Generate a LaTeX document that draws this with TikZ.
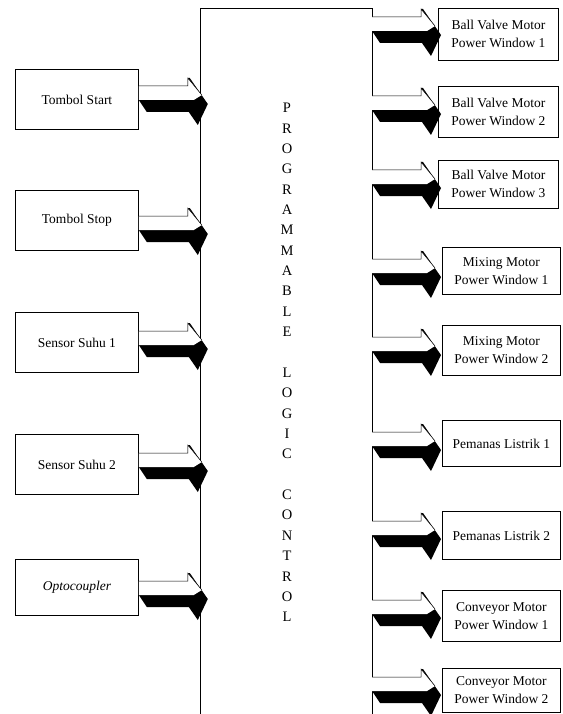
\documentclass[tikz,border=0pt]{standalone}
\usepackage{fontspec}
\setmainfont{Liberation Serif}
\usetikzlibrary{calc}
\tikzset{
  blk/.style={draw=black, line width=0.8pt, inner sep=0pt, align=center, anchor=north west,
    font=\fontsize{13.5}{18}\selectfont},
  inbox/.style={blk, minimum width=123pt, minimum height=60pt},
  outbox/.style={blk, minimum width=120pt, minimum height=50pt},
  ltr/.style={inner sep=0pt, font=\fontsize{14.5}{16}\selectfont},
  arr3d/.pic={
    \fill[black] (0,14)--(49,14)--(49,-8)--(51,-8)--(69,18)--(59,39)--(50,26)--(8,26)--cycle;
    \fill[white] (0,0)--(49,0)--(49,-8)--(63,9)--(55,14)--(0,14)--cycle;
    \draw[line width=0.5pt] (0,0)--(49,0)--(49,-8)--(63,9);
  }
}
\begin{document}
\begin{tikzpicture}[x=1pt,y=-1pt]
\useasboundingbox (0,0) rectangle (562,714);
% PLC
\coordinate (plcbl) at (200,714);
\coordinate (plcbr) at (372,714);
\draw[line width=0.8pt] (plcbl) -- (200,8) coordinate (plctl) -- (372,8) coordinate (plctr) -- (plcbr);
% PLC letters
\foreach \t [count=\i from 0] in {P,R,O,G,R,A,M,M,A,B,L,E,{},L,O,G,I,C,{},C,O,N,T,R,O,L}{
  \node[ltr] (p\i) at (287,{108+\i*20.36}) {\t};
}
% inputs
\node[inbox] (in1) at (15,69) {Tombol Start};
\node[inbox] (in2) at (15,190) {Tombol Stop};
\node[inbox] (in3) at (15,312) {Sensor Suhu 1};
\node[inbox] (in4) at (15,434) {Sensor Suhu 2};
\node[inbox, minimum height=56pt] (in5) at (15,559) {\itshape Optocoupler};
\foreach \n/\d in {in1/17,in2/26,in3/19,in4/19,in5/22}{
  \pic at ($(\n.north east)+(0,\d)$) {arr3d};
}
% outputs
\node[outbox, minimum width=120pt, minimum height=52pt] (o1) at (438,8) {Ball Valve Motor\\Power Window 1};
\node[outbox, minimum width=120pt, minimum height=51pt] (o2) at (438,86) {Ball Valve Motor\\Power Window 2};
\node[outbox, minimum width=120pt, minimum height=48pt] (o3) at (438,160) {Ball Valve Motor\\Power Window 3};
\node[outbox, minimum width=118pt, minimum height=47pt] (o4) at (442,247) {Mixing Motor\\Power Window 1};
\node[outbox, minimum width=118pt, minimum height=50pt] (o5) at (442,325) {Mixing Motor\\Power Window 2};
\node[outbox, minimum width=118pt, minimum height=46pt] (o6) at (442,420) {Pemanas Listrik 1};
\node[outbox, minimum width=118pt, minimum height=48pt] (o7) at (442,511) {Pemanas Listrik 2};
\node[outbox, minimum width=118pt, minimum height=51pt] (o8) at (442,590) {Conveyor Motor\\Power Window 1};
\node[outbox, minimum width=118pt, minimum height=44pt] (o9) at (442,668) {Conveyor Motor\\Power Window 2};
\foreach \n/\d in {o1/9,o2/10,o3/10,o4/12,o5/12,o6/12,o7/10,o8/10,o9/9}{
  \pic at ($(plctr |- \n.north)+(0,\d)$) {arr3d};
}
\end{tikzpicture}
\end{document}
